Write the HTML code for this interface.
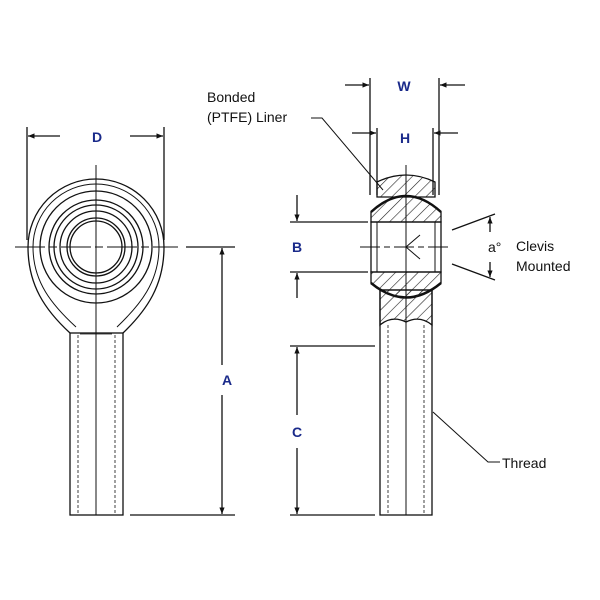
<!DOCTYPE html>
<html><head><style>body{margin:0;background:#fff}svg{display:block}</style></head><body>
<svg width="600" height="600" viewBox="0 0 600 600" xmlns="http://www.w3.org/2000/svg" font-family="Liberation Sans, Arial, sans-serif">
<defs>
<marker id="ar" viewBox="0 0 10 10" refX="10" refY="5" markerWidth="7" markerHeight="5" orient="auto-start-reverse"><path d="M0,1 L10,5 L0,9 z" fill="#111"/></marker>
<pattern id="hat" patternUnits="userSpaceOnUse" width="8" height="8" patternTransform="rotate(45)"><line x1="0" y1="0" x2="0" y2="8" stroke="#222" stroke-width="1.2"/></pattern>
</defs>
<g stroke="#111" fill="none" stroke-width="1.3">
<path d="M70,333 C45,310 28,285 28,247 A68,68 0 0 1 164,247 C164,285 147,310 123,333"/>
<path d="M76,327 C52,305 33,282 33,247 A63,63 0 0 1 159,247 C159,282 140,305 117,327" stroke-width="1"/>
<circle cx="96" cy="247" r="56"/><circle cx="96" cy="247" r="47"/><circle cx="96" cy="247" r="42"/>
<circle cx="96" cy="247" r="36"/><circle cx="96" cy="247" r="29"/><circle cx="96" cy="247" r="26"/>
<rect x="70" y="333" width="53" height="182"/>
<line x1="78" y1="335" x2="78" y2="513" stroke-dasharray="3,2" stroke-width="0.8"/>
<line x1="115" y1="335" x2="115" y2="513" stroke-dasharray="3,2" stroke-width="0.8"/>
<line x1="80" y1="334" x2="112" y2="334" stroke-width="0.8"/>
<line x1="96" y1="165" x2="96" y2="515" stroke-width="1"/>
<line x1="15" y1="247" x2="178" y2="247" stroke-dasharray="30,4,8,4" stroke-width="1"/>
<line x1="27" y1="127" x2="27" y2="240"/><line x1="164" y1="127" x2="164" y2="240"/>
<line x1="60" y1="136" x2="28" y2="136" marker-end="url(#ar)"/><line x1="130" y1="136" x2="163" y2="136" marker-end="url(#ar)"/>
<line x1="186" y1="247" x2="235" y2="247"/><line x1="130" y1="515" x2="235" y2="515"/>
<line x1="222" y1="365" x2="222" y2="248" marker-end="url(#ar)"/><line x1="222" y1="395" x2="222" y2="514" marker-end="url(#ar)"/>
<path d="M377,197 L377,182 Q406,168 435,182 L435,197 Z" fill="url(#hat)"/>
<path d="M371,222 L371,212 Q406,180 441,212 L441,222 Z" fill="url(#hat)"/>
<path d="M371,272 L371,283 Q406,312 441,283 L441,272 Z" fill="url(#hat)"/>
<path d="M371,212 Q406,180 441,212 M371,283 Q406,312 441,283" stroke-width="2.5"/>
<rect x="371" y="222" width="70" height="50"/>
<line x1="377" y1="222" x2="377" y2="272" stroke-width="1"/><line x1="435" y1="222" x2="435" y2="272" stroke-width="1"/>
<path d="M380,290 L432,290 L432,325 Q420,315 406,322 Q392,315 380,325 Z" fill="url(#hat)"/>
<rect x="380" y="290" width="52" height="225"/>
<line x1="388" y1="325" x2="388" y2="513" stroke-dasharray="3,2" stroke-width="0.8"/>
<line x1="424" y1="325" x2="424" y2="513" stroke-dasharray="3,2" stroke-width="0.8"/>
<line x1="406" y1="165" x2="406" y2="515" stroke-width="1"/>
<line x1="360" y1="247" x2="452" y2="247" stroke-dasharray="20,4,6,4" stroke-width="1"/>
<path d="M420,235 L406,247 L420,259" stroke-width="1"/>
<line x1="370" y1="78" x2="370" y2="195"/><line x1="439" y1="78" x2="439" y2="195"/>
<line x1="345" y1="85" x2="369" y2="85" marker-end="url(#ar)"/><line x1="465" y1="85" x2="440" y2="85" marker-end="url(#ar)"/>
<line x1="377" y1="128" x2="377" y2="195"/><line x1="433" y1="128" x2="433" y2="195"/>
<line x1="352" y1="133" x2="376" y2="133" marker-end="url(#ar)"/><line x1="458" y1="133" x2="434" y2="133" marker-end="url(#ar)"/>
<line x1="290" y1="222" x2="368" y2="222"/><line x1="290" y1="272" x2="368" y2="272"/>
<line x1="297" y1="195" x2="297" y2="221" marker-end="url(#ar)"/><line x1="297" y1="298" x2="297" y2="273" marker-end="url(#ar)"/>
<line x1="290" y1="346" x2="375" y2="346"/><line x1="290" y1="515" x2="375" y2="515"/>
<line x1="297" y1="415" x2="297" y2="347" marker-end="url(#ar)"/><line x1="297" y1="448" x2="297" y2="514" marker-end="url(#ar)"/>
<line x1="452" y1="230" x2="495" y2="214"/><line x1="452" y1="264" x2="495" y2="280"/>
<line x1="490" y1="232" x2="490" y2="217" marker-end="url(#ar)"/><line x1="490" y1="262" x2="490" y2="277" marker-end="url(#ar)"/>
<path d="M311,118 L322,118 L383,190" stroke-width="1"/>
<path d="M433,412 L488,462 L500,462" stroke-width="1"/>
</g>
<g fill="#1a2a8a" font-weight="bold" font-size="14" text-anchor="middle">
<text x="97" y="142">D</text><text x="404" y="91">W</text><text x="405" y="143">H</text>
<text x="297" y="252">B</text><text x="297" y="437">C</text><text x="227" y="385">A</text>
</g>
<g fill="#111" font-size="14">
<text x="207" y="102">Bonded</text><text x="207" y="122">(PTFE) Liner</text>
<text x="488" y="252">a°</text>
<text x="516" y="251">Clevis</text><text x="516" y="271">Mounted</text>
<text x="502" y="468">Thread</text>
</g>
</svg>
</body></html>
